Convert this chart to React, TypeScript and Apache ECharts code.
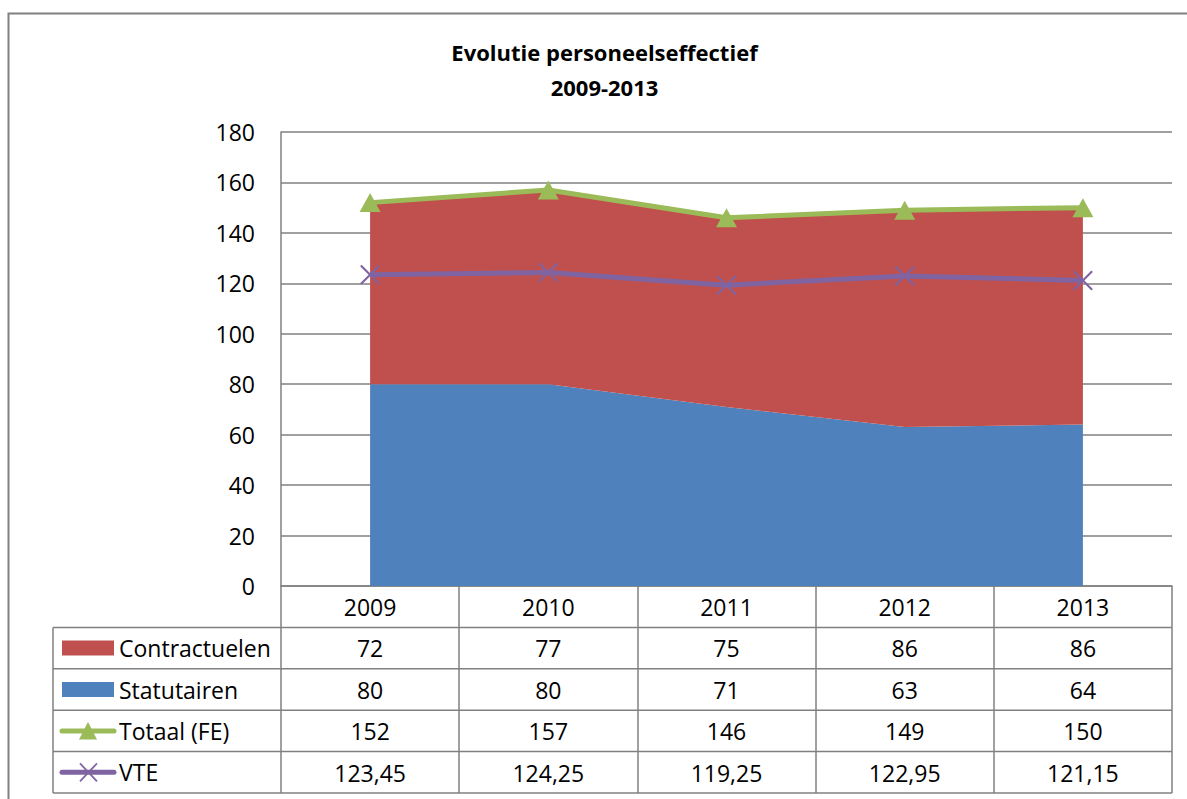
import React, { useEffect, useRef } from "react";
import * as echarts from "echarts";

const years = ["2009", "2010", "2011", "2012", "2013"];
const contractuelen = [72, 77, 75, 86, 86];
const statutairen = [80, 80, 71, 63, 64];
const totaal = [152, 157, 146, 149, 150];
const vte = [123.45, 124.25, 119.25, 122.95, 121.15];
const seriesNames = ["Contractuelen", "Statutairen", "Totaal (FE)", "VTE"];
const titleLines = ["Evolutie personeelseffectief", "2009-2013"];

const FONT = "'Open Sans', 'Noto Sans', sans-serif";
const FS = 23;
const GRAY = "#808080";
const BLUE = "#4F81BD";
const RED = "#C0504D";
const GREEN = "#9BBB59";
const PURPLE = "#8064A2";

const GRID_LEFT = 281;
const GRID_RIGHT_X = 1172;
const AXIS_Y = 586;
const GRID_TOP = 132;
const ROW_H = 41.4;
const TABLE_LEFT = 53;
const W = 1187;
const H = 799;

const X_SYMBOL =
  "path://M0,1.5 L1.5,0 L10,8.5 L18.5,0 L20,1.5 L11.5,10 L20,18.5 L18.5,20 L10,11.5 L1.5,20 L0,18.5 L8.5,10 Z";

const fmtInt = (v: number) => String(v);
const fmtDec = (v: number) => v.toFixed(2).replace(".", ",");

export default function App() {
  const ref = useRef<HTMLDivElement>(null);

  useEffect(() => {
    if (!ref.current) return;
    const chart = echarts.init(ref.current, null, { renderer: "svg" });

    const tableRows = [
      contractuelen.map(fmtInt),
      statutairen.map(fmtInt),
      totaal.map(fmtInt),
      vte.map(fmtDec),
    ];

    const labelStyle = {
      interval: 0,
      margin: 21,
      verticalAlign: "middle",
      color: "#000",
      fontSize: FS,
      fontFamily: FONT,
    };

    const xAxes: any[] = [
      {
        type: "category",
        data: years,
        boundaryGap: true,
        position: "bottom",
        axisLine: { show: true, lineStyle: { color: GRAY, width: 1.5 } },
        axisTick: {
          show: true,
          interval: 0,
          length: ROW_H * 5,
          lineStyle: { color: GRAY, width: 1.5 },
        },
        axisLabel: labelStyle,
        splitLine: { show: false },
      },
      ...tableRows.map((row, i) => ({
        type: "category",
        data: row,
        boundaryGap: true,
        position: "bottom",
        offset: ROW_H * (i + 1),
        axisLine: { show: false },
        axisTick: { show: false },
        splitLine: { show: false },
        axisLabel: labelStyle,
      })),
    ];

    const graphic: any[] = [];
    graphic.push({
      type: "rect",
      shape: { x: 8.5, y: 13.5, width: 1400, height: 1000 },
      style: { fill: "none", stroke: GRAY, lineWidth: 2 },
      silent: true,
    });
    titleLines.forEach((t, i) => {
      graphic.push({
        type: "text",
        x: 604.5,
        y: 52 + i * 35,
        style: {
          text: t,
          fill: "#000",
          font: `bold 22px ${FONT}`,
          textAlign: "center",
          textVerticalAlign: "middle",
        },
      });
    });
    for (let k = 1; k <= 5; k++) {
      graphic.push({
        type: "line",
        shape: { x1: TABLE_LEFT, y1: AXIS_Y + ROW_H * k, x2: GRID_RIGHT_X, y2: AXIS_Y + ROW_H * k },
        style: { stroke: GRAY, lineWidth: 1.5 },
        silent: true,
      });
    }
    graphic.push({
      type: "line",
      shape: { x1: TABLE_LEFT, y1: AXIS_Y + ROW_H, x2: TABLE_LEFT, y2: AXIS_Y + ROW_H * 5 },
      style: { stroke: GRAY, lineWidth: 1.5 },
      silent: true,
    });
    seriesNames.forEach((name, i) => {
      const cy = AXIS_Y + ROW_H * (i + 1) + ROW_H / 2;
      if (i === 0 || i === 1) {
        graphic.push({
          type: "rect",
          shape: { x: 62, y: cy - 7.5, width: 52, height: 15 },
          style: { fill: i === 0 ? RED : BLUE },
        });
      } else if (i === 2) {
        graphic.push({
          type: "line",
          shape: { x1: 62, y1: cy, x2: 114, y2: cy },
          style: { stroke: GREEN, lineWidth: 5, lineCap: "round" },
        });
        graphic.push({
          type: "polygon",
          shape: { points: [[79, cy + 8.5], [97, cy + 8.5], [88, cy - 9]] },
          style: { fill: GREEN },
        });
      } else {
        graphic.push({
          type: "line",
          shape: { x1: 62, y1: cy, x2: 114, y2: cy },
          style: { stroke: PURPLE, lineWidth: 5, lineCap: "round" },
        });
        graphic.push({
          type: "line",
          shape: { x1: 80, y1: cy - 9, x2: 97, y2: cy + 9 },
          style: { stroke: PURPLE, lineWidth: 1.8 },
        });
        graphic.push({
          type: "line",
          shape: { x1: 80, y1: cy + 9, x2: 97, y2: cy - 9 },
          style: { stroke: PURPLE, lineWidth: 1.8 },
        });
      }
      graphic.push({
        type: "text",
        x: 119,
        y: cy,
        style: {
          text: name,
          fill: "#000",
          font: `${FS}px ${FONT}`,
          textAlign: "left",
          textVerticalAlign: "middle",
        },
      });
    });

    chart.setOption({
      animation: false,
      backgroundColor: "#fff",
      grid: {
        left: GRID_LEFT,
        right: W - GRID_RIGHT_X,
        top: GRID_TOP,
        bottom: H - AXIS_Y,
        containLabel: false,
      },
      xAxis: xAxes,
      yAxis: {
        type: "value",
        min: 0,
        max: 180,
        interval: 20,
        axisLine: { show: true, lineStyle: { color: GRAY, width: 1.5 } },
        axisTick: { show: false },
        splitLine: { show: true, lineStyle: { color: GRAY, width: 1.5 } },
        axisLabel: { color: "#000", fontSize: FS, fontFamily: FONT, margin: 26 },
      },
      graphic,
      series: [
        {
          name: seriesNames[1],
          type: "line",
          stack: "total",
          data: statutairen,
          showSymbol: false,
          lineStyle: { width: 0 },
          areaStyle: { color: BLUE, opacity: 1 },
          itemStyle: { color: BLUE },
          z: 2,
        },
        {
          name: seriesNames[0],
          type: "line",
          stack: "total",
          data: contractuelen,
          showSymbol: false,
          lineStyle: { width: 0 },
          areaStyle: { color: RED, opacity: 1 },
          itemStyle: { color: RED },
          z: 2,
        },
        {
          name: seriesNames[2],
          type: "line",
          data: totaal,
          symbol: "triangle",
          symbolSize: [21, 19],
          lineStyle: { color: GREEN, width: 5 },
          itemStyle: { color: GREEN },
          z: 4,
        },
        {
          name: seriesNames[3],
          type: "line",
          data: vte,
          symbol: X_SYMBOL,
          symbolSize: 20,
          lineStyle: { color: PURPLE, width: 5 },
          itemStyle: { color: PURPLE },
          z: 3,
        },
      ],
    });

    return () => chart.dispose();
  }, []);

  return (
    <div
      ref={ref}
      style={{ position: "fixed", left: 0, top: 0, width: W, height: H }}
    />
  );
}
